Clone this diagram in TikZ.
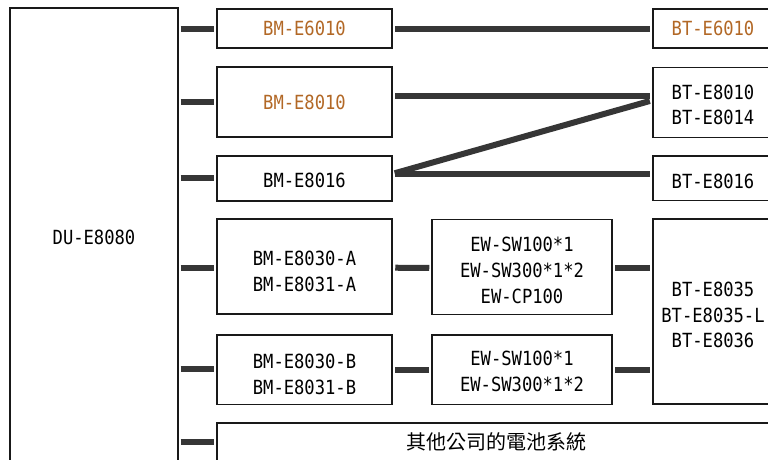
\documentclass[tikz,border=0pt]{standalone}
\usepackage{fontspec}
\setmainfont[FakeStretch=0.88]{DejaVu Sans Mono}
\newfontfamily\cjk{Noto Sans CJK TC}
\usetikzlibrary{calc}
\definecolor{orn}{RGB}{178,104,38}
\definecolor{wirec}{RGB}{54,54,54}
\newcommand\shifttext[2]{\raisebox{#1}[\height][\depth]{\begin{tabular}{@{}c@{}}#2\end{tabular}}}
\begin{document}
\begin{tikzpicture}[x=1pt,y=-1pt,
  box/.style={draw=black!90,line width=1.5pt,inner sep=0pt,align=center,
    font=\fontsize{19.5}{25.7}\selectfont},
  wire/.style={draw=wirec,line width=6pt,shorten <=2.5pt,shorten >=2pt}]
\useasboundingbox (0,0) rectangle (768,459);
\clip (0,0) rectangle (768,459);
% main unit
\node[box,line width=1.2pt,minimum width=168pt,minimum height=458pt] (du) at (94,237) {DU-E8080};
% battery mounts
\node[box,minimum width=175pt,minimum height=39pt,text=orn] (bm6010) at (304.5,28.5) {BM-E6010};
\node[box,minimum width=175pt,minimum height=70pt,text=orn] (bm8010) at (304.5,102) {BM-E8010};
\node[box,minimum width=175pt,minimum height=45pt] (bm8016) at (304.5,178.3) {\shifttext{-4.4pt}{BM-E8016}};
\node[box,minimum width=175pt,minimum height=95pt] (bm8030a) at (304.5,266.7) {\shifttext{-6.6pt}{BM-E8030-A\\BM-E8031-A}};
\node[box,minimum width=175pt,minimum height=69.5pt] (bm8030b) at (304.5,369.6) {\shifttext{-6.5pt}{BM-E8030-B\\BM-E8031-B}};
\node[box,minimum width=558pt,minimum height=38pt,font=\cjk\fontsize{20}{24}\selectfont] (other) at (496,442) {其他公司的電池系統};
% wiring
\node[box,minimum width=180pt,minimum height=95pt] (ew1) at (522,267) {\shifttext{-5.3pt}{EW-SW100*1\\EW-SW300*1*2\\EW-CP100}};
\node[box,minimum width=180pt,minimum height=69.5pt] (ew2) at (522,369.6) {\shifttext{-3.6pt}{EW-SW100*1\\EW-SW300*1*2}};
% batteries
\node[box,minimum width=120pt,minimum height=39pt,text=orn] (bt6010) at (713,28.5) {BT-E6010};
\node[box,minimum width=120pt,minimum height=70pt] (bt8010) at (713,102.3) {\shifttext{-4.7pt}{BT-E8010\\BT-E8014}};
\node[box,minimum width=120pt,minimum height=44.5pt] (bt8016) at (713,178.2) {\shifttext{-4.8pt}{BT-E8016}};
\node[box,minimum width=120pt,minimum height=185pt] (bt8035) at (713,311.6) {\shifttext{-5.5pt}{BT-E8035\\BT-E8035-L\\BT-E8036}};
% stubs from DU
\foreach \n/\yy in {bm6010/0,bm8010/0,bm8016/0,bm8030a/1,bm8030b/-0.5,other/0}
  \draw[wire,shorten <=2pt] ([yshift=-\yy pt]du.east |- \n.west) -- ([yshift=-\yy pt]\n.west);
% top connections
\draw[wire] (bm6010.east) -- (bt6010.west);
\draw[wire] ([yshift=6pt]bm8010.east) -- ([yshift=6pt]bm8010.east -| bt8010.west);
\draw[wire,line cap=butt] ([yshift=2pt]bt8010.west) -- ([yshift=4.5pt]bm8016.east);
\draw[wire] ([yshift=4.5pt]bm8016.east) -- ([yshift=4.5pt]bm8016.east -| bt8016.west);
% lower connections
\draw[wire] ([yshift=-1pt]bm8030a.east) -- ([yshift=-1pt]ew1.west);
\draw[wire] (bm8030b.east) -- (ew2.west);
\draw[wire] ([yshift=-1pt]ew1.east) -- ([yshift=-1pt]ew1.east -| bt8035.west);
\draw[wire] (ew2.east) -- (ew2.east -| bt8035.west);
\end{tikzpicture}
\end{document}
